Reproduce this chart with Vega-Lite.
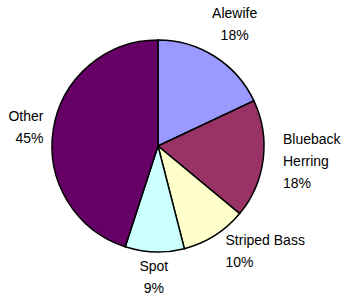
{
  "$schema": "https://vega.github.io/schema/vega-lite/v6.json",
  "width": 316,
  "height": 292,
  "padding": {"left": 0, "top": 0, "right": 36, "bottom": 6},
  "autosize": {"type": "none"},
  "background": "white",
  "view": {"stroke": null},
  "data": {
    "values": [
      {"idx": 1, "species": "Alewife", "pct": 18, "label": ["Alewife", "18%"]},
      {"idx": 2, "species": "Blueback Herring", "pct": 18, "label": ["Blueback", "Herring", "18%"]},
      {"idx": 3, "species": "Striped Bass", "pct": 10, "label": ["Striped Bass", "10%"]},
      {"idx": 4, "species": "Spot", "pct": 9, "label": ["Spot", "9%"]},
      {"idx": 5, "species": "Other", "pct": 45, "label": ["Other", "45%"]}
    ]
  },
  "encoding": {
    "theta": {"field": "pct", "type": "quantitative", "stack": true},
    "order": {"field": "idx", "type": "quantitative"}
  },
  "layer": [
    {
      "mark": {"type": "arc", "outerRadius": 106, "stroke": "black", "strokeWidth": 1.5},
      "encoding": {
        "color": {
          "field": "species",
          "type": "nominal",
          "scale": {
            "domain": ["Alewife", "Blueback Herring", "Striped Bass", "Spot", "Other"],
            "range": ["#9999FF", "#993366", "#FFFFCC", "#CCFFFF", "#660066"]
          },
          "legend": null
        }
      }
    },
    {
      "mark": {
        "type": "text",
        "radius": {"expr": "sin((datum.pct_start + datum.pct_end) * PI / 100) > 0.45 && cos((datum.pct_start + datum.pct_end) * PI / 100) < 0.2 ? 126 : (sin((datum.pct_start + datum.pct_end) * PI / 100) < -0.8 ? 116 : (cos((datum.pct_start + datum.pct_end) * PI / 100) > 0 ? 143 : 132))"},
        "align": {"expr": "sin((datum.pct_start + datum.pct_end) * PI / 100) > 0.45 && cos((datum.pct_start + datum.pct_end) * PI / 100) < 0.2 ? 'left' : (sin((datum.pct_start + datum.pct_end) * PI / 100) < -0.8 ? 'right' : 'center')"},
        "dy": {"expr": "-(length(datum.label) - 1) * 11"},
        "font": "Liberation Sans",
        "fontSize": 14,
        "lineHeight": 22,
        "fill": "black",
        "baseline": "middle"
      },
      "encoding": {"text": {"field": "label"}}
    }
  ]
}
